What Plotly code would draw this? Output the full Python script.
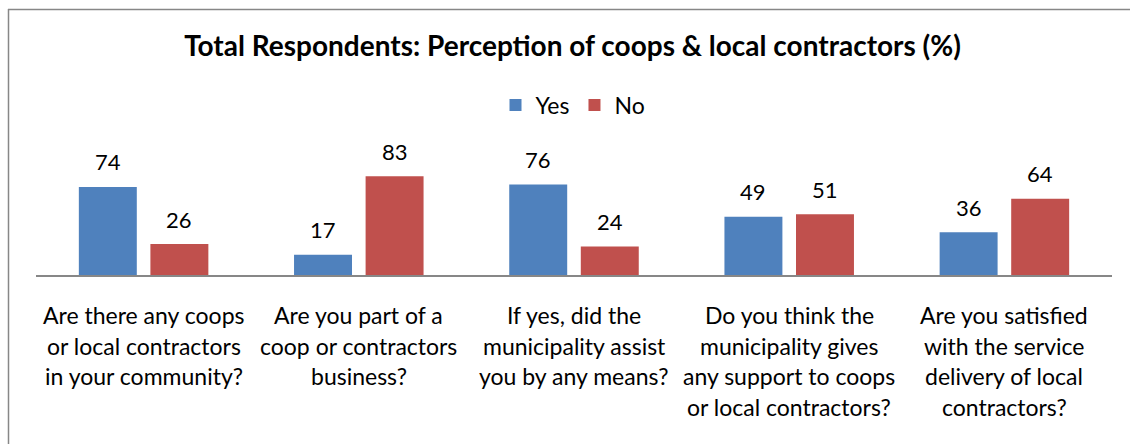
import plotly.graph_objects as go

# Survey questions (line breaks as they appear under each group of bars)
categories = [
    "Are there any coops<br>or local contractors<br>in your community?",
    "Are you part of a<br>coop or contractors<br>business?",
    "If yes, did the<br>municipality assist<br>you by any means?",
    "Do you think the<br>municipality gives<br>any support to coops<br>or local contractors?",
    "Are you satisfied<br>with the service<br>delivery of local<br>contractors?",
]
yes_values = [74, 17, 76, 49, 36]
no_values = [26, 83, 24, 51, 64]

title_text = "Total Respondents: Perception of coops & local contractors (%)"
FONT = "Lato, Calibri, Carlito, sans-serif"
BLUE = "#4F81BD"
RED = "#C0504D"
GREY = "#878787"

W, H = 1130, 444
M_L, M_R, M_T, M_B = 36, 18, 156, 169

fig = go.Figure()
fig.add_trace(go.Bar(name="Yes", x=categories, y=yes_values, marker_color=BLUE,
                     marker_line_width=0))
fig.add_trace(go.Bar(name="No", x=categories, y=no_values, marker_color=RED,
                     marker_line_width=0))

annotations = []
# value labels above each bar
for offset, values in ((-0.5, yes_values), (0.5, no_values)):
    for i, v in enumerate(values):
        annotations.append(dict(
            x=i + offset * 0.332, y=v, xref="x", yref="y",
            text=str(v), showarrow=False, yanchor="middle", yshift=25,
            font=dict(family=FONT, size=22, color="#000000"),
        ))

# multi-line category labels below the axis
LINE_STEP = 30.7
for i, label in enumerate(categories):
    for j, line in enumerate(label.split("<br>")):
        annotations.append(dict(
            x=i, y=0, xref="x", yref="y", text=line, showarrow=False,
            yanchor="middle", yshift=-(40 + j * LINE_STEP),
            font=dict(family=FONT, size=23, color="#000000"),
        ))

fig.update_layout(
    width=W, height=H,
    margin=dict(l=M_L, r=M_R, t=M_T, b=M_B, pad=0),
    paper_bgcolor="white", plot_bgcolor="white",
    barmode="group", bargap=0.335, bargroupgap=0.19,
    title=dict(text="<b>" + title_text + "</b>", xref="container", yref="container",
               x=572.5 / W, y=1 - 46 / H, xanchor="center", yanchor="middle",
               font=dict(family=FONT, size=28, color="#000000")),
    legend=dict(orientation="h", xref="container", yref="container",
                x=573 / W, y=1 - 105 / H, xanchor="center", yanchor="middle",
                font=dict(family=FONT, size=23, color="#000000"),
                itemwidth=30, traceorder="normal"),
    xaxis=dict(showticklabels=False, showgrid=False, zeroline=False,
               showline=True, linecolor=GREY, linewidth=2, ticks=""),
    yaxis=dict(range=[0, 100], visible=False, showgrid=False, zeroline=False),
    annotations=annotations,
    showlegend=True,
)

# chart frame (left and top edges fall inside the view)
plot_w = W - M_L - M_R
plot_h = H - M_T - M_B
def px_x(px):
    return (px - M_L) / plot_w
def px_y(py):
    return (H - M_B - py) / plot_h
fig.add_shape(type="line", xref="paper", yref="paper",
              x0=px_x(8.5), x1=px_x(8.5), y0=px_y(9), y1=px_y(460),
              line=dict(color=GREY, width=1.5))
fig.add_shape(type="line", xref="paper", yref="paper",
              x0=px_x(8), x1=px_x(1140), y0=px_y(9.5), y1=px_y(9.5),
              line=dict(color=GREY, width=1.5))

fig.write_html("out.html")
